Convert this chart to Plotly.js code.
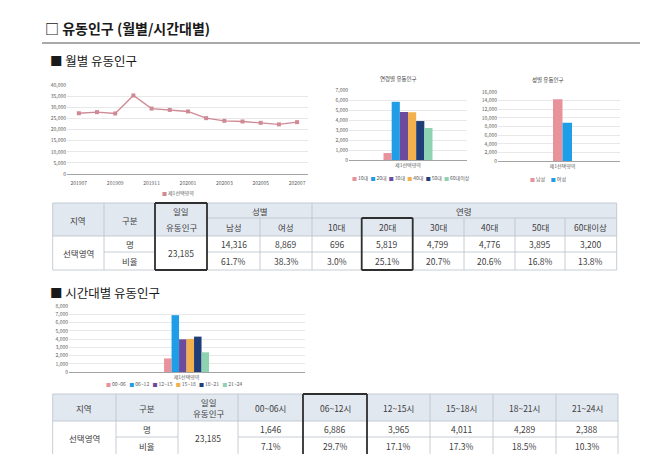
<!DOCTYPE html>
<html><head><meta charset="utf-8">
<script src="https://cdn.plot.ly/plotly-3.0.1.min.js"></script>
<style>html,body{margin:0;padding:0;background:#fff;}#chart{width:652px;height:461px;}</style>
</head><body><div id="chart"></div>
<script>
// ---- data ----
const months = ['201907','201908','201909','201910','201911','201912','202001','202002','202003','202004','202005','202006','202007'];
const monthlyValues = [27300, 27800, 27200, 35300, 29400, 28800, 28100, 25100, 23900, 23600, 23000, 22300, 23300];
const regionName = '제1선택영역';
const regionLabel = '선택영역';
const ageGroups = ['10대','20대','30대','40대','50대','60대이상'];
const ageValues = [696, 5819, 4799, 4776, 3895, 3200];
const ageShares = ['3.0%','25.1%','20.7%','20.6%','16.8%','13.8%'];
const genderGroups = ['남성','여성'];
const genderValues = [14316, 8869];
const genderShares = ['61.7%','38.3%'];
const timeGroups = ['00~06','06~12','12~15','15~18','18~21','21~24'];
const timeHeaders = ['00~06시','06~12시','12~15시','15~18시','18~21시','21~24시'];
const timeValues = [1646, 6886, 3965, 4011, 4289, 2388];
const timeShares = ['7.1%','29.7%','17.1%','17.3%','18.5%','10.3%'];
const dailyTotal = 23185;

// ---- styling ----
const palette6 = ['#e8929b','#1f9de6','#6d4b9c','#f2b14c','#1f3d78','#8dd3b2'];
const genderColors = ['#e8929b','#1f9de6'];
const lineColor = '#cf8a95';
const FONT = 'Noto Sans CJK KR, Noto Sans, sans-serif';
const W = 652, H = 461;
const X = p => p / W;
const Y = p => 1 - p / H;
const fmt = n => String(n).replace(/\B(?=(\d{3})+(?!\d))/g, ',');

const traces = [];
traces.push({type:'scatter', mode:'lines+markers', x:months, y:monthlyValues, xaxis:'x', yaxis:'y',
  line:{color:lineColor, width:1.3}, marker:{symbol:'square', size:4, color:lineColor}, hoverinfo:'skip', showlegend:false});
ageGroups.forEach((g,i)=>traces.push({type:'bar', name:g, x:[regionName], y:[ageValues[i]], xaxis:'x2', yaxis:'y2',
  marker:{color:palette6[i]}, hoverinfo:'skip', showlegend:false}));
genderGroups.forEach((g,i)=>traces.push({type:'bar', name:g, x:[regionName], y:[genderValues[i]], xaxis:'x3', yaxis:'y3',
  marker:{color:genderColors[i]}, hoverinfo:'skip', showlegend:false}));
timeGroups.forEach((g,i)=>traces.push({type:'bar', name:g, x:[regionName], y:[timeValues[i]], xaxis:'x4', yaxis:'y4',
  marker:{color:palette6[i]}, hoverinfo:'skip', showlegend:false}));

function yax(d0,d1,range,dtick,anchor){
  return {domain:[Y(d0),Y(d1)], range, dtick, tickformat:',', gridcolor:'#d9d9d9', gridwidth:0.6,
    zeroline:false, showline:false, ticks:'', tickfont:{size:5,color:'#595959'}, anchor, fixedrange:true};
}
function xax(d0,d1,range,anchor,extra){
  return Object.assign({domain:[X(d0),X(d1)], range, type:'category', showgrid:false, showline:true,
    linecolor:'#8c8c8c', linewidth:0.8, ticks:'', tickfont:{size:5,color:'#595959'}, anchor, fixedrange:true}, extra||{});
}

const shapes = [], ann = [];
function L(x0,y0,x1,y1,color,w){shapes.push({type:'line',xref:'paper',yref:'paper',x0:X(x0),y0:Y(y0),x1:X(x1),y1:Y(y1),line:{color:color,width:w}});}
function R(x0,y0,x1,y1,fill){shapes.push({type:'rect',xref:'paper',yref:'paper',x0:X(x0),y0:Y(y0),x1:X(x1),y1:Y(y1),fillcolor:fill,line:{width:0},layer:'below'});}
function T(x,y,text,o){o=o||{};ann.push({xref:'paper',yref:'paper',x:X(x),y:Y(y),text:text,showarrow:false,
  xanchor:o.anchor||'center',yanchor:'middle',font:{family:FONT,size:o.size||8.5,color:o.color||'#404040',weight:o.weight||'normal'}});}

// headings
T(43,28,'□ 유동인구 (월별/시간대별)',{anchor:'left',size:14,color:'#1a1a1a',weight:'bold'});
L(42,43,640,43,'#8c8c8c',1.5);
T(48,61,'■ 월별 유동인구',{anchor:'left',size:12.5,color:'#1a1a1a'});
T(48,292,'■ 시간대별 유동인구',{anchor:'left',size:12.5,color:'#1a1a1a'});

// chart titles
T(398,79,'연령별 유동인구',{size:5.5,color:'#404040'});
T(548,80,'성별 유동인구',{size:5.5,color:'#404040'});

// legends
function legend(cx,cy,labels,colors,sep){
  const txt = labels.map((l,i)=>`<span style="color:${colors[i]}">■</span>\u2009${l}`).join(sep);
  T(cx,cy,txt,{size:5,color:'#595959'});
}
legend(178,193,[regionName],[lineColor],'');
legend(411,178,ageGroups,palette6,'\u00a0\u00a0');
legend(548,179,genderGroups,genderColors,'\u00a0\u00a0\u00a0\u00a0\u00a0');
legend(174,383,timeGroups,palette6,'\u00a0\u00a0\u00a0');

// table 1
const c = [52.7,104,155,207,260,312,361.7,412.7,464,515,565,616.7];
const r = [203,218,236,252,270];
const G = '#b9c0c9', gw = 0.8, B = '#2f2f2f', bw = 1.8;
R(c[0],r[0],c[11],r[2],'#e2e8f0');
L(c[0],r[0],c[11],r[0],G,gw); L(c[0],r[4],c[11],r[4],G,gw);
L(c[0],r[0],c[0],r[4],G,gw); L(c[11],r[0],c[11],r[4],G,gw);
L(c[0],r[2],c[11],r[2],G,gw);
L(c[1],r[3],c[2],r[3],G,gw); L(c[3],r[3],c[11],r[3],G,gw);
L(c[3],r[1],c[11],r[1],G,gw);
[1,2,3,5].forEach(i=>L(c[i],r[0],c[i],r[4],G,gw));
[4,6,7,8,9,10].forEach(i=>L(c[i],r[1],c[i],r[4],G,gw));
[[c[2],r[0],c[3],r[4]],[c[6],r[1],c[7],r[4]]].forEach(b=>{
  L(b[0],b[1],b[2],b[1],B,bw); L(b[0],b[3],b[2],b[3],B,bw); L(b[0],b[1],b[0],b[3],B,bw); L(b[2],b[1],b[2],b[3],B,bw);
});
const hm = (r[0]+r[2])/2;
T((c[0]+c[1])/2,hm,'지역'); T((c[1]+c[2])/2,hm,'구분');
T((c[2]+c[3])/2,(r[0]+r[1])/2+0.5,'일일'); T((c[2]+c[3])/2,(r[1]+r[2])/2,'유동인구');
T((c[3]+c[5])/2,(r[0]+r[1])/2,'성별'); T((c[5]+c[11])/2,(r[0]+r[1])/2,'연령');
const cols1 = genderGroups.concat(ageGroups);
const vals1 = genderValues.concat(ageValues).map(fmt);
const shares1 = genderShares.concat(ageShares);
cols1.forEach((h,j)=>{
  const cx = (c[3+j]+c[4+j])/2;
  T(cx,(r[1]+r[2])/2,h); T(cx,(r[2]+r[3])/2,vals1[j]); T(cx,(r[3]+r[4])/2,shares1[j]);
});
T((c[0]+c[1])/2,(r[2]+r[4])/2,regionLabel);
T((c[1]+c[2])/2,(r[2]+r[3])/2,'명'); T((c[1]+c[2])/2,(r[3]+r[4])/2,'비율');
T((c[2]+c[3])/2,(r[2]+r[4])/2,fmt(dailyTotal));

// table 2
const d = [52.7,116,178,238,303,367,430,493,556,618];
const s = [394,421,437,454];
R(d[0],s[0],d[9],s[1],'#e2e8f0');
L(d[0],s[0],d[9],s[0],G,gw);
L(d[0],s[0],d[0],s[3],G,gw); L(d[9],s[0],d[9],s[3],G,gw);
L(d[0],s[1],d[9],s[1],G,gw);
L(d[1],s[2],d[2],s[2],G,gw); L(d[3],s[2],d[9],s[2],G,gw);
for(let i=1;i<=8;i++) L(d[i],s[0],d[i],s[3],G,gw);
L(d[4],s[0],d[5],s[0],B,bw); L(d[4],s[0],d[4],s[3],B,bw); L(d[5],s[0],d[5],s[3],B,bw);
const hm2 = (s[0]+s[1])/2;
T((d[0]+d[1])/2,hm2,'지역'); T((d[1]+d[2])/2,hm2,'구분');
T((d[2]+d[3])/2,hm2,'일일<br>유동인구');
timeHeaders.forEach((h,j)=>{
  const cx = (d[3+j]+d[4+j])/2;
  T(cx,hm2,h); T(cx,(s[1]+s[2])/2,fmt(timeValues[j])); T(cx,(s[2]+s[3])/2,timeShares[j]);
});
T((d[0]+d[1])/2,(s[1]+s[3])/2,regionLabel);
T((d[1]+d[2])/2,(s[1]+s[2])/2,'명'); T((d[1]+d[2])/2,(s[2]+s[3])/2,'비율');
T((d[2]+d[3])/2,(s[1]+s[3])/2,fmt(dailyTotal));

const layout = {
  width:W, height:H, autosize:false, margin:{l:0,r:0,t:0,b:0},
  paper_bgcolor:'#ffffff', plot_bgcolor:'rgba(0,0,0,0)',
  font:{family:FONT, size:5, color:'#595959'},
  barmode:'group', bargap:0.5, bargroupgap:0, showlegend:false,
  xaxis: xax(67,308,[-0.65,12.6],'y',{tickvals:months.filter((m,i)=>i%2===0), ticklabelstandoff:4}),
  yaxis: yax(174,85,[0,40000],5000,'x'),
  xaxis2: xax(349,467,[-0.602,0.602],'y2'),
  yaxis2: yax(160,90,[0,7000],1000,'x2'),
  xaxis3: xax(498,620,[-1.697,1.513],'y3'),
  yaxis3: yax(161,92,[0,16000],2000,'x3'),
  xaxis4: xax(69,305,[-1.306,1.316],'y4'),
  yaxis4: yax(372,306,[0,8000],1000,'x4'),
  shapes, annotations:ann
};
Plotly.newPlot('chart', traces, layout, {displayModeBar:false, staticPlot:true});
</script>
</body></html>
